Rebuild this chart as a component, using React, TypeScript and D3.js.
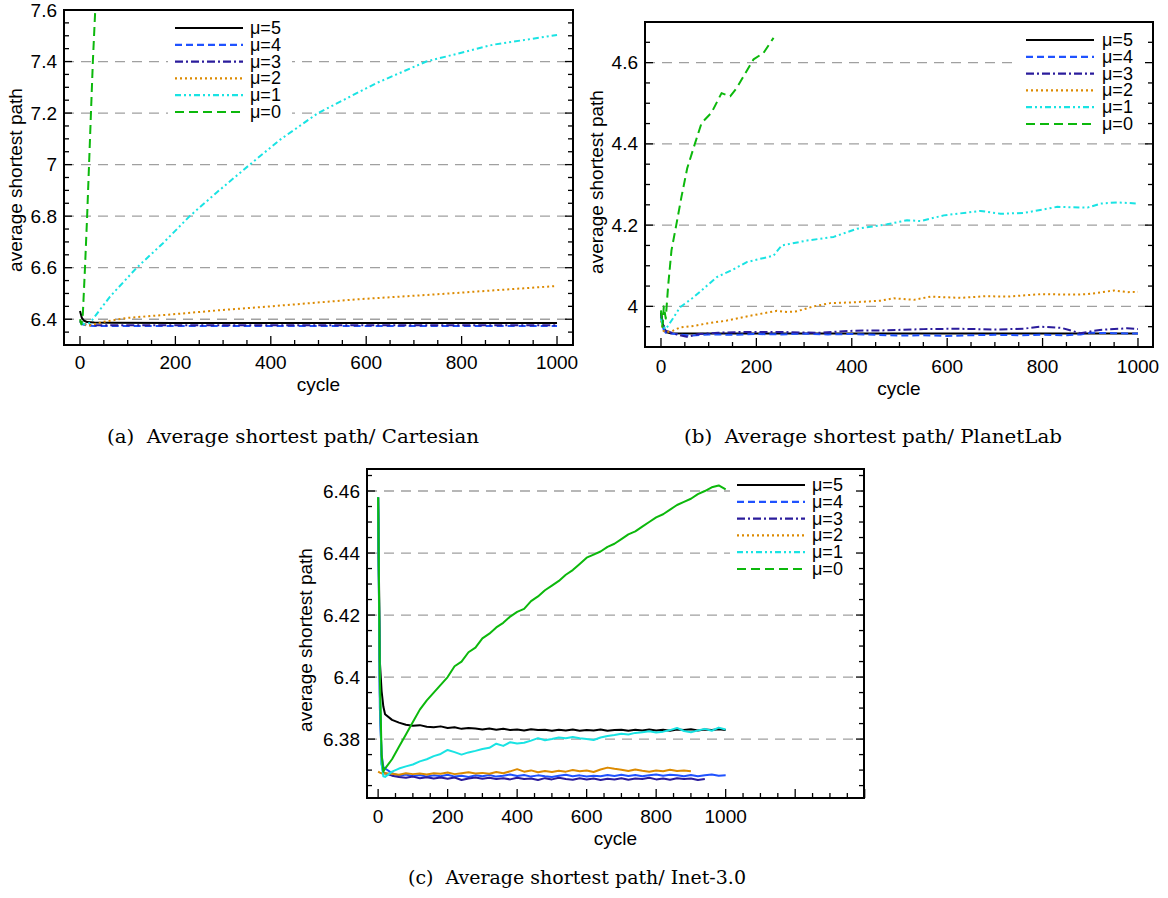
import React from 'react';
import * as d3 from 'd3';

// ---------- legend / styles ----------
const MU_LABELS = ['μ=5', 'μ=4', 'μ=3', 'μ=2', 'μ=1', 'μ=0'];
const MU_COLORS = ['#000000', '#1f52ff', '#2b1c9c', '#dc8a00', '#19e3e3', '#0cb80c'];
const MU_DASHES = ['none', '7,4', '8,3,2,3', '2,3', '6,3,2,3,2,3', '9,5'];

// ---------- panel (a) Cartesian : [cycle, value] ----------
const A_MU5: [number, number][] = [[0, 6.432], [4, 6.405], [8, 6.395], [15, 6.389], [30, 6.387], [60, 6.386], [200, 6.3855], [500, 6.3852], [1000, 6.385]];
const A_MU4: [number, number][] = [[0, 6.39], [5, 6.38], [15, 6.375], [30, 6.374], [1000, 6.374]];
const A_MU3: [number, number][] = [[0, 6.395], [5, 6.383], [15, 6.378], [30, 6.377], [1000, 6.377]];
const A_MU2: [number, number][] = [[0, 6.39], [8, 6.38], [20, 6.376], [50, 6.39], [98, 6.405], [200, 6.42], [293, 6.435], [400, 6.45], [586, 6.478], [750, 6.497], [1000, 6.529]];
const A_MU1: [number, number][] = [[0, 6.39], [10, 6.38], [21, 6.386], [63, 6.488], [119, 6.6], [174, 6.695], [230, 6.8], [293, 6.902], [356, 7.0], [419, 7.096], [499, 7.2], [621, 7.316], [726, 7.4], [865, 7.465], [1000, 7.503]];
const A_MU0: [number, number][] = [[0, 6.40], [3, 6.38], [6, 6.42], [8, 6.5], [10.5, 6.6], [15, 6.8], [19, 7.0], [23, 7.2], [27, 7.4], [32, 7.6], [36, 7.8]];
const A_Y_TICKS = [6.4, 6.6, 6.8, 7, 7.2, 7.4, 7.6];

// ---------- panel (b) PlanetLab ----------
const B_MU5: [number, number][] = [[0, 3.985], [5, 3.95], [10, 3.937], [20, 3.934], [50, 3.933], [1000, 3.933]];
const B_MU4: [number, number][] = [[0, 3.975], [5, 3.945], [10, 3.935], [30, 3.932], [60, 3.928], [100, 3.931], [150, 3.930], [200, 3.932], [250, 3.931], [300, 3.933], [350, 3.931], [400, 3.932], [450, 3.930], [500, 3.928], [550, 3.929], [600, 3.927], [650, 3.929], [700, 3.930], [750, 3.929], [800, 3.930], [850, 3.929], [880, 3.931], [900, 3.935], [950, 3.934], [1000, 3.933]];
const B_MU3: [number, number][] = [[0, 3.98], [5, 3.955], [10, 3.94], [30, 3.932], [54, 3.925], [80, 3.932], [120, 3.935], [166, 3.937], [250, 3.937], [330, 3.935], [404, 3.940], [470, 3.941], [551, 3.944], [620, 3.945], [700, 3.943], [760, 3.945], [795, 3.950], [840, 3.947], [879, 3.934], [920, 3.942], [977, 3.946], [1000, 3.944]];
const B_MU2: [number, number][] = [[0, 3.965], [5, 3.94], [10, 3.936], [25, 3.94], [40, 3.948], [70, 3.952], [96, 3.958], [138, 3.965], [187, 3.977], [243, 3.989], [265, 3.986], [285, 3.988], [320, 4.0], [355, 4.008], [404, 4.01], [460, 4.014], [488, 4.02], [530, 4.016], [565, 4.024], [628, 4.021], [680, 4.025], [726, 4.024], [796, 4.03], [866, 4.029], [894, 4.03], [950, 4.039], [978, 4.035], [1000, 4.036]];
const B_MU1: [number, number][] = [[0, 3.97], [5, 3.95], [10, 3.944], [25, 3.97], [40, 3.998], [68, 4.022], [117, 4.072], [150, 4.09], [180, 4.109], [236, 4.125], [253, 4.15], [306, 4.162], [362, 4.171], [411, 4.191], [474, 4.202], [516, 4.212], [544, 4.21], [593, 4.224], [670, 4.235], [712, 4.228], [761, 4.23], [831, 4.245], [894, 4.243], [922, 4.253], [957, 4.256], [1000, 4.253]];
const B_MU0: [number, number][] = [[0, 3.99], [3, 3.95], [6, 4.0], [10, 3.97], [15, 4.05], [22, 4.138], [32, 4.2], [43, 4.27], [55, 4.34], [71, 4.4], [85, 4.451], [106, 4.477], [127, 4.525], [145, 4.517], [159, 4.538], [173, 4.566], [194, 4.608], [215, 4.624], [236, 4.661]];
const B_Y_TICKS = [4, 4.2, 4.4, 4.6];

// ---------- panel (c) Inet-3.0 : values at cycles 0,5,10,15,20,40,...,1000 ----------
const C_CYCLES = [0, 5, 10, 15, ...d3.range(20, 1001, 20)];
const C_MU5 = [6.458, 6.405, 6.3955, 6.3905,
  6.3880, 6.3862, 6.3853, 6.3846, 6.3843, 6.3845, 6.3840, 6.3838, 6.3841, 6.3836,
  6.3838, 6.3833, 6.3836, 6.3834, 6.3831, 6.3834, 6.3830, 6.3833, 6.3829, 6.3831,
  6.3828, 6.3832, 6.3829, 6.3830, 6.3827, 6.3830, 6.3828, 6.3831, 6.3827, 6.3829,
  6.3828, 6.3831, 6.3827, 6.3829, 6.3830, 6.3827, 6.3830, 6.3828, 6.3831, 6.3828,
  6.3830, 6.3827, 6.3831, 6.3829, 6.3832, 6.3828, 6.3831, 6.3829, 6.3832, 6.3829];
const C_MU4 = [6.458, 6.39, 6.375, 6.371,
  6.3705, 6.3690, 6.3682, 6.3686, 6.3680, 6.3684, 6.3679, 6.3683, 6.3680, 6.3685,
  6.3679, 6.3682, 6.3678, 6.3683, 6.3680, 6.3684, 6.3679, 6.3682, 6.3686, 6.3681,
  6.3684, 6.3679, 6.3683, 6.3680, 6.3678, 6.3682, 6.3685, 6.3680, 6.3683, 6.3679,
  6.3682, 6.3680, 6.3684, 6.3681, 6.3685, 6.3681, 6.3684, 6.3680, 6.3683, 6.3686,
  6.3682, 6.3685, 6.3683, 6.3680, 6.3684, 6.3680, 6.3683, 6.3686, 6.3682, 6.3683];
const C_MU3 = [6.458, 6.395, 6.372, 6.369,
  6.3690, 6.3682, 6.3678, 6.3675, 6.3679, 6.3674, 6.3677, 6.3673, 6.3676, 6.3672,
  6.3676, 6.3668, 6.3673, 6.3676, 6.3672, 6.3675, 6.3671, 6.3674, 6.3670, 6.3675,
  6.3671, 6.3673, 6.3668, 6.3674, 6.3670, 6.3675, 6.3671, 6.3669, 6.3674, 6.3670,
  6.3673, 6.3668, 6.3672, 6.3670, 6.3674, 6.3669, 6.3673, 6.3671, 6.3675, 6.3670,
  6.3673, 6.3669, 6.3674, 6.3671, 6.3673, 6.3668, 6.3671];
const C_MU2 = [6.3695, 6.3692, 6.3690, 6.3688,
  6.3690, 6.3688, 6.3685, 6.3690, 6.3687, 6.3689, 6.3686, 6.3690, 6.3688, 6.3692,
  6.3687, 6.3690, 6.3693, 6.3689, 6.3691, 6.3688, 6.3694, 6.3690, 6.3696, 6.3703,
  6.3695, 6.3699, 6.3693, 6.3697, 6.3694, 6.3698, 6.3695, 6.3700, 6.3696, 6.3699,
  6.3694, 6.3702, 6.3708, 6.3704, 6.3701, 6.3697, 6.3702, 6.3698, 6.3695, 6.3699,
  6.3696, 6.3701, 6.3697, 6.3699, 6.3696];
const C_MU1 = [6.458, 6.395, 6.372, 6.368,
  6.3678, 6.3695, 6.3705, 6.3712, 6.3718, 6.3728, 6.3735, 6.3745, 6.3752, 6.3765,
  6.3758, 6.3750, 6.3757, 6.3762, 6.3768, 6.3772, 6.3785, 6.3778, 6.3790, 6.3786,
  6.3788, 6.3795, 6.3803, 6.3796, 6.3800, 6.3805, 6.3803, 6.3807, 6.3803, 6.3800,
  6.3797, 6.3805, 6.3810, 6.3813, 6.3817, 6.3815, 6.3820, 6.3822, 6.3825, 6.3821,
  6.3824, 6.3829, 6.3836, 6.3826, 6.3822, 6.3828, 6.3833, 6.3827, 6.3837, 6.3831];
const C_MU0 = [6.458, 6.40, 6.375, 6.3695,
  6.3705, 6.3735, 6.3775, 6.3815, 6.3855, 6.3895, 6.3925, 6.3950, 6.3975, 6.4000,
  6.4035, 6.4050, 6.4080, 6.4095, 6.4125, 6.4140, 6.4160, 6.4175, 6.4195, 6.4210,
  6.4220, 6.4245, 6.4260, 6.4280, 6.4295, 6.4310, 6.4330, 6.4345, 6.4365, 6.4385,
  6.4395, 6.4405, 6.4420, 6.4430, 6.4445, 6.4460, 6.4470, 6.4485, 6.4500, 6.4515,
  6.4525, 6.4540, 6.4555, 6.4565, 6.4575, 6.4590, 6.4600, 6.4612, 6.4618, 6.4605];
const C_Y_TICKS = [6.38, 6.4, 6.42, 6.44, 6.46];

const X_LABEL_TICKS = [0, 200, 400, 600, 800, 1000];

const zipC = (vals: number[]): [number, number][] => vals.map((v, i) => [C_CYCLES[i], v]);

const SANS = "'Liberation Sans', Arial, Helvetica, sans-serif";
const SERIF = "'DejaVu Serif', 'Liberation Serif', serif";

type PanelProps = {
  id: string;
  left: number; right: number; top: number; bottom: number;
  xDomain: [number, number]; yDomain: [number, number];
  yTicks: number[]; yMinor: number; xTickMax: number;
  series: [number, number][][];
  solidData?: boolean;
  lineWidth: number;
  legend: { x1: number; x2: number; tx: number; y0: number; box: [number, number, number, number] };
  xLabelY: number; cycleY: number; ylabelX: number; ylabelY: number;
  caption: string; captionX: number; captionY: number; captionLen: number;
};

function Panel(p: PanelProps) {
  const x = d3.scaleLinear().domain(p.xDomain).range([p.left, p.right]);
  const y = d3.scaleLinear().domain(p.yDomain).range([p.bottom, p.top]);
  const line = d3.line<[number, number]>().x(d => x(d[0])).y(d => y(d[1]));
  const minorY = d3.range(p.yDomain[0], p.yDomain[1] + 1e-9, p.yMinor)
    .map(v => Math.round(v / p.yMinor) * p.yMinor)
    .filter(v => v >= p.yDomain[0] - 1e-9 && v <= p.yDomain[1] + 1e-9);
  const xTicks = d3.range(0, p.xTickMax + 1, 50);
  const clipId = 'clip-' + p.id;
  const fmt = (v: number) => String(+v.toFixed(3));
  return (
    <g>
      <defs>
        <clipPath id={clipId}>
          <rect x={p.left} y={p.top} width={p.right - p.left} height={p.bottom - p.top} />
        </clipPath>
      </defs>
      {/* grid */}
      {p.yTicks.filter(v => Math.abs(y(v) - p.top) > 2).map(v => (
        <line key={'g' + v} x1={p.left} x2={p.right} y1={y(v)} y2={y(v)}
          stroke="#a0a0a0" strokeWidth={1.3} strokeDasharray="10,7" />
      ))}
      {/* data */}
      <g clipPath={`url(#${clipId})`}>
        {p.series.map((s, i) => (
          <path key={'s' + i} d={line(s) || ''} fill="none" stroke={MU_COLORS[i]}
            strokeWidth={p.lineWidth} strokeLinejoin="round"
            strokeDasharray={p.solidData && i > 0 ? 'none' : MU_DASHES[i]} />
        ))}
      </g>
      {/* legend */}
      <rect x={p.legend.box[0]} y={p.legend.box[1]} width={p.legend.box[2] - p.legend.box[0]}
        height={p.legend.box[3] - p.legend.box[1]} fill="#fff" />
      {MU_LABELS.map((lab, i) => {
        const yy = p.legend.y0 + i * 16.8;
        return (
          <g key={'l' + i}>
            <line x1={p.legend.x1} x2={p.legend.x2} y1={yy} y2={yy} stroke={MU_COLORS[i]}
              strokeWidth={2.2} strokeDasharray={MU_DASHES[i]} />
            <text x={p.legend.tx} y={yy} dominantBaseline="central" fontFamily={SANS} fontSize={18}>{lab}</text>
          </g>
        );
      })}
      {/* frame */}
      <rect x={p.left} y={p.top} width={p.right - p.left} height={p.bottom - p.top}
        fill="none" stroke="#000" strokeWidth={2} />
      {/* y ticks */}
      {minorY.map(v => {
        const major = p.yTicks.some(t => Math.abs(t - v) < 1e-6);
        const len = major ? 8 : 5;
        return (
          <g key={'yt' + v}>
            <line x1={p.left} x2={p.left + len} y1={y(v)} y2={y(v)} stroke="#000" strokeWidth={1.3} />
            <line x1={p.right} x2={p.right - len} y1={y(v)} y2={y(v)} stroke="#000" strokeWidth={1.3} />
          </g>
        );
      })}
      {p.yTicks.map(v => (
        <text key={'yl' + v} x={p.left - 7} y={y(v)} textAnchor="end" dominantBaseline="central"
          fontFamily={SANS} fontSize={19}>{fmt(v)}</text>
      ))}
      {/* x ticks */}
      {xTicks.map(v => {
        const len = v % 200 === 0 ? 9 : 5;
        return <line key={'xt' + v} x1={x(v)} x2={x(v)} y1={p.bottom} y2={p.bottom - len} stroke="#000" strokeWidth={1.3} />;
      })}
      {X_LABEL_TICKS.map(v => (
        <text key={'xl' + v} x={x(v)} y={p.xLabelY} textAnchor="middle" fontFamily={SANS} fontSize={19}>{v}</text>
      ))}
      <text x={(p.left + p.right) / 2} y={p.cycleY} textAnchor="middle" fontFamily={SANS} fontSize={19}>cycle</text>
      <text transform={`translate(${p.ylabelX},${p.ylabelY}) rotate(-90)`} textAnchor="middle"
        fontFamily={SANS} fontSize={19}>average shortest path</text>
      <text x={p.captionX} y={p.captionY} textAnchor="middle" fontFamily={SERIF} fontSize={19}
        textLength={p.captionLen} lengthAdjust="spacingAndGlyphs" style={{ whiteSpace: 'pre' }}>{p.caption}</text>
    </g>
  );
}

export default function App() {
  return (
    <svg width={1168} height={898} style={{ position: 'absolute', left: 0, top: 0, background: '#fff' }}>
      <rect x={0} y={0} width={1168} height={898} fill="#fff" />
      <Panel id="a" left={64} right={573} top={10} bottom={345}
        xDomain={[-33.5, 1033.5]} yDomain={[6.3, 7.6]} yTicks={A_Y_TICKS} yMinor={0.05} xTickMax={1000}
        series={[A_MU5, A_MU4, A_MU3, A_MU2, A_MU1, A_MU0]} lineWidth={2}
        legend={{ x1: 175, x2: 243, tx: 250, y0: 28, box: [168, 18, 292, 122] }}
        xLabelY={369} cycleY={391} ylabelX={22} ylabelY={180}
        caption="(a)  Average shortest path/ Cartesian" captionX={293} captionY={443} captionLen={372} />
      <Panel id="b" left={645} right={1153} top={22} bottom={347}
        xDomain={[-33.5, 1031.5]} yDomain={[3.9, 4.7]} yTicks={B_Y_TICKS} yMinor={0.05} xTickMax={1000}
        series={[B_MU5, B_MU4, B_MU3, B_MU2, B_MU1, B_MU0]} lineWidth={2}
        legend={{ x1: 1026, x2: 1094, tx: 1102, y0: 40, box: [1019, 30, 1150, 134] }}
        xLabelY={373} cycleY={395} ylabelX={603} ylabelY={182}
        caption="(b)  Average shortest path/ PlanetLab" captionX={873} captionY={443} captionLen={378} />
      <Panel id="c" left={367} right={864} top={469} bottom={798}
        xDomain={[-32, 1398]} yDomain={[6.361, 6.4671]} yTicks={C_Y_TICKS} yMinor={0.005} xTickMax={1400}
        series={[zipC(C_MU5), zipC(C_MU4), zipC(C_MU3), zipC(C_MU2), zipC(C_MU1), zipC(C_MU0)]}
        solidData={true} lineWidth={2}
        legend={{ x1: 737, x2: 805, tx: 812, y0: 485, box: [730, 475, 861, 578] }}
        xLabelY={823} cycleY={845} ylabelX={312} ylabelY={640}
        caption="(c)  Average shortest path/ Inet-3.0" captionX={577} captionY={884} captionLen={338} />
    </svg>
  );
}
